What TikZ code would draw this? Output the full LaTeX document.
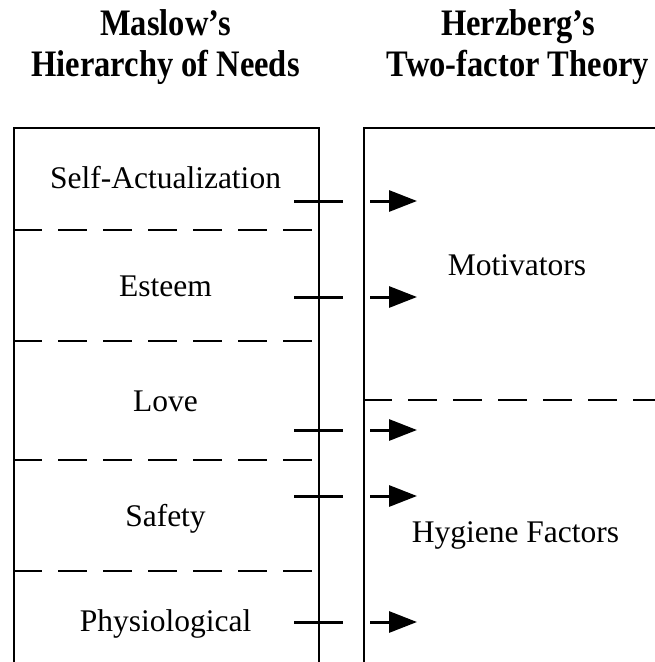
\documentclass[tikz,border=0pt]{standalone}
\usepackage{fontspec}
\setmainfont{Liberation Serif}
\usetikzlibrary{arrows.meta}
\newcommand{\tallhead}[1]{\scalebox{1}[1.15]{#1}}

\begin{document}
\begin{tikzpicture}[x=1pt,y=-1pt,
  heading/.style={font=\fontsize{32.5}{38}\selectfont\bfseries, anchor=base, inner sep=0pt},
  need/.style={font=\fontsize{31.5}{37}\selectfont, anchor=base, inner sep=0pt},
  panel/.style={draw, line width=2pt, anchor=north west, inner sep=0pt},
  divider/.style={line width=2pt, dash pattern=on 29pt off 16pt},
  tick/.style={line width=3pt},
  flow/.style={line width=3pt, -{Triangle[length=28pt,width=21pt]}}]

\useasboundingbox (0,0) rectangle (655,662);
\clip (0,0) rectangle (655,662);

% column headings
\node[heading] (maslowA) at (165.5,35) {\tallhead{Maslow’s}};
\node[heading] (maslowB) at (165.5,76) {\tallhead{Hierarchy of Needs}};
\node[heading] (herzA) at (518,35) {\tallhead{Herzberg’s}};
\node[heading] (herzB) at (518,76) {\tallhead{Two-factor Theory}};

% the two panels (open at the bottom / right)
\node[panel, minimum width=305pt, minimum height=600pt] (needs) at (13,127) {};
\node[panel, minimum width=400pt, minimum height=600pt] (factors) at (363,127) {};

% level dividers
\foreach \y in {230,341,460,571}
  \draw[divider] (13,\y) -- (318,\y);
\draw[divider] (363,400) -- (700,400);

% need levels
\node[need] (self)   at (165.5,188) {Self-Actualization};
\node[need] (esteem) at (165.5,296) {Esteem};
\node[need] (love)   at (165.5,411) {Love};
\node[need] (safety) at (165.5,526) {Safety};
\node[need] (physio) at (165.5,631) {Physiological};

% factor groups
\node[need] (motiv)   at (517,275) {Motivators};
\node[need] (hygiene) at (515.5,542) {Hygiene Factors};

% links from needs to factors
\foreach \y [count=\i] in {201,297,430,496,622} {
  \coordinate (tA\i) at (294,\y);
  \coordinate (tB\i) at (343,\y);
  \coordinate (aA\i) at (370,\y);
  \coordinate (aB\i) at (417,\y);
  \draw[tick] (tA\i) -- (tB\i);
  \draw[flow] (aA\i) -- (aB\i);
}
\end{tikzpicture}
\end{document}
